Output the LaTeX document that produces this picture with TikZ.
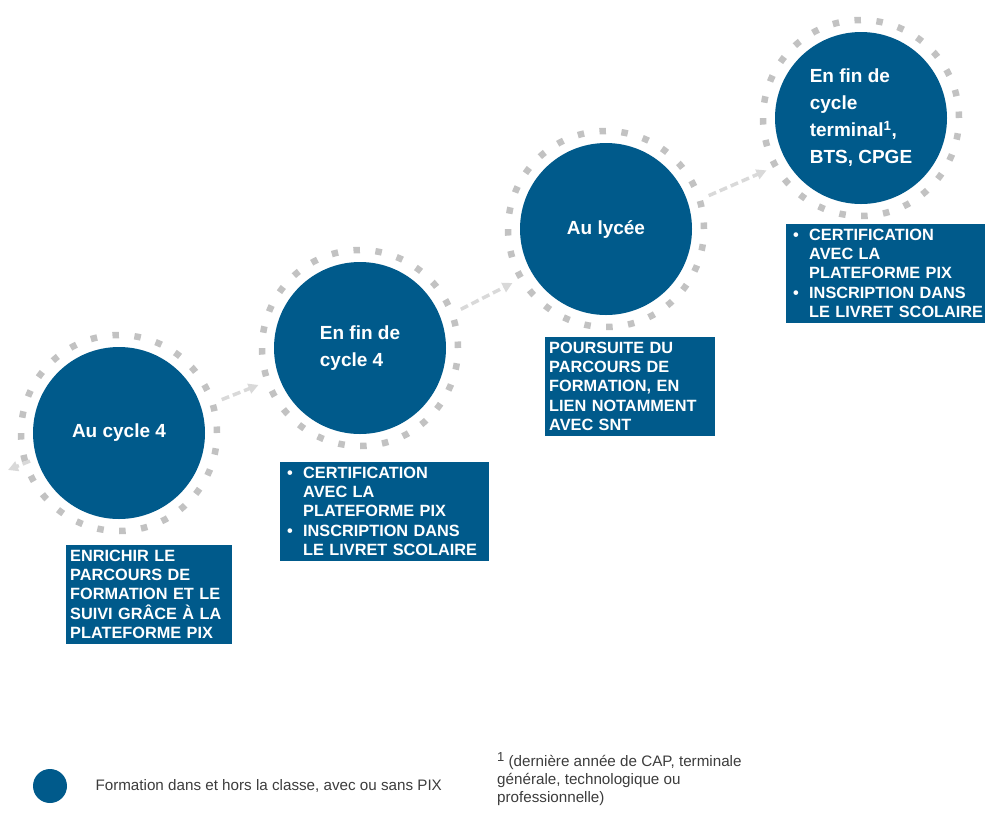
\documentclass[tikz,border=0pt]{standalone}
\usepackage{fontspec}
\setmainfont{Liberation Sans}
\usetikzlibrary{arrows.meta}
\definecolor{bleu}{HTML}{005A8B}
\definecolor{gris}{HTML}{C2C2C2}
\definecolor{grisclair}{HTML}{D9D9D9}
\definecolor{texte}{HTML}{3C3C3C}
\begin{document}
\begin{tikzpicture}[x=1pt,y=-1pt,>={Triangle[length=10pt,width=10pt]},
  etape/.style={circle, fill=bleu, minimum size=172pt, inner sep=0pt, text=white,
    font=\fontsize{19}{27}\selectfont\bfseries, align=left},
  anneau/.style={circle, draw=gris, line width=6.5pt, dash pattern=on 6.5pt off 15.5pt,
    minimum size=196pt, outer sep=10pt},
  cadre/.style={fill=bleu, text=white, anchor=north west, inner xsep=4pt, inner ysep=5pt,
    font=\fontsize{16.3}{19.2}\selectfont\bfseries, align=left},
  fleche/.style={->, draw=grisclair, line width=3.5pt, dash pattern=on 8pt off 4pt}]
\useasboundingbox (0,0) rectangle (985,812);

\node(r1)[anneau] at (119,433) {};
\node(r2)[anneau] at (360,348) {};
\node(r3)[anneau] at (606,229) {};
\node(r4)[anneau] at (861,118) {};

\node(c1)[etape] at (119,433) {Au cycle 4};
\node(c2)[etape] at (360,348) {En fin de\\cycle 4};
\node(c3)[etape] at (606,229) {Au lycée};
\node(c4)[etape] at (861,118) {En fin de\\cycle\\terminal\textsuperscript{1},\\BTS, CPGE};

\coordinate(sortie) at (30,461);
\coordinate(bord) at (8,470);
\draw[fleche] (sortie) -- (bord);
\draw[fleche] (r1.18) -- (r2.200);
\draw[fleche] (r2.21) -- (r3.210);
\draw[fleche] (r3.18) -- (r4.209);

\node(b1)[cadre, text width=158pt] at (66,545)
  {ENRICHIR LE\\PARCOURS DE\\FORMATION ET LE\\SUIVI GRÂCE À LA\\PLATEFORME PIX};
\node(b2)[cadre, text width=201pt] at (280,462)
  {\makebox[19pt][l]{\hspace{3pt}•}CERTIFICATION\\\hspace*{19pt}AVEC LA\\\hspace*{19pt}PLATEFORME PIX\\
   \makebox[19pt][l]{\hspace{3pt}•}INSCRIPTION DANS\\\hspace*{19pt}LE LIVRET SCOLAIRE};
\node(b3)[cadre, text width=162pt] at (545,337)
  {POURSUITE DU\\PARCOURS DE\\FORMATION, EN\\LIEN NOTAMMENT\\AVEC SNT};
\node(b4)[cadre, text width=201pt] at (786,224)
  {\makebox[19pt][l]{\hspace{3pt}•}CERTIFICATION\\\hspace*{19pt}AVEC LA\\\hspace*{19pt}PLATEFORME PIX\\
   \makebox[19pt][l]{\hspace{3pt}•}INSCRIPTION DANS\\\hspace*{19pt}LE LIVRET SCOLAIRE};

% legende
\node(puce)[circle, fill=bleu, minimum size=34pt, inner sep=0pt] at (50,786) {};
\node(legende)[anchor=west, text=texte, font=\fontsize{15.2}{18}\selectfont] at (92,786)
  {Formation dans et hors la classe, avec ou sans PIX};
\node(note)[anchor=north west, text=texte, align=left, inner sep=0pt,
  font=\fontsize{15.2}{18}\selectfont] at (497,752)
  {\raisebox{5pt}{\fontsize{13}{13}\selectfont 1} (dernière année de CAP, terminale\\générale, technologique ou\\professionnelle)};
\end{tikzpicture}
\end{document}
